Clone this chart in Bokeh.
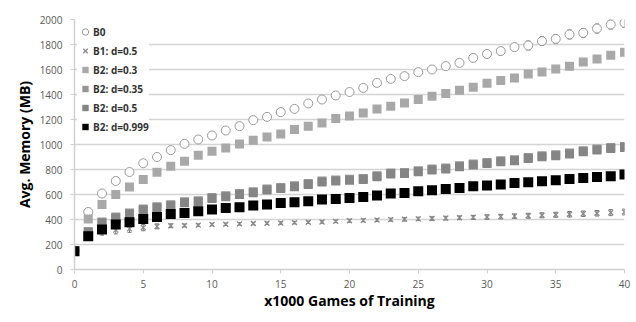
from bokeh.plotting import figure
from bokeh.models import ColumnDataSource, Whisker, TeeHead, Legend, LegendItem, Range1d, FixedTicker
from bokeh.embed import file_html
from bokeh.resources import INLINE

games = list(range(0, 41))
b0 = [150, 460, 608, 708, 780, 850, 900, 955, 1005, 1040, 1072, 1112, 1147, 1195, 1221, 1259, 1285, 1328, 1360, 1392,
      1420, 1453, 1493, 1525, 1547, 1579, 1600, 1627, 1653, 1693, 1724, 1747, 1779, 1792, 1827, 1845, 1880, 1893, 1928, 1960, 1973]
b0_err = [0, 30, 25, 25, 25, 25, 20, 20, 20, 20, 20, 20, 15, 20, 20, 20, 20, 20, 20, 20,
          15, 20, 20, 20, 25, 20, 25, 25, 25, 30, 30, 30, 30, 35, 35, 35, 35, 35, 35, 35, 35]
b1 = [150, 290, 305, 315, 325, 335, 345, 350, 352, 355, 360, 362, 365, 368, 370, 372, 375, 378, 380, 385,
      390, 393, 396, 399, 402, 405, 408, 411, 414, 417, 420, 423, 427, 430, 434, 438, 442, 446, 450, 455, 460]
b1_err = [0, 30, 30, 30, 28, 25, 20, 15, 12, 10, 10, 10, 10, 10, 10, 10, 10, 10, 10, 10,
          12, 12, 12, 12, 14, 14, 14, 15, 15, 16, 18, 18, 18, 20, 20, 20, 22, 22, 22, 24, 24]
b2_d030 = [150, 405, 520, 600, 661, 720, 779, 827, 867, 915, 947, 973, 1005, 1035, 1061, 1085, 1120, 1147, 1173, 1208,
           1228, 1253, 1285, 1307, 1333, 1360, 1387, 1408, 1435, 1459, 1490, 1512, 1533, 1565, 1581, 1605, 1627, 1661, 1685, 1715, 1739]
b2_d035 = [150, 305, 380, 420, 452, 484, 503, 519, 543, 551, 577, 591, 609, 623, 644, 657, 671, 689, 708, 716,
           722, 729, 751, 772, 777, 791, 804, 812, 831, 844, 857, 871, 879, 897, 911, 919, 932, 951, 964, 977, 985]
b2_d050 = [150, 295, 372, 412, 444, 476, 495, 511, 535, 543, 569, 583, 601, 615, 636, 649, 663, 681, 700, 708,
           714, 721, 743, 764, 769, 783, 796, 804, 823, 836, 849, 863, 871, 889, 903, 911, 924, 943, 956, 969, 977]
b2_d0999 = [147, 267, 320, 360, 379, 405, 421, 445, 453, 467, 480, 493, 499, 512, 520, 533, 539, 547, 560, 565,
            572, 581, 592, 608, 613, 627, 635, 645, 653, 667, 673, 680, 693, 699, 707, 715, 725, 733, 741, 747, 760]

labels = ["B0", "B1: d=0.5", "B2: d=0.3", "B2: d=0.35", "B2: d=0.5", "B2: d=0.999"]
x_ticks = [0, 5, 10, 15, 20, 25, 30, 35, 40]
y_ticks = [0, 200, 400, 600, 800, 1000, 1200, 1400, 1600, 1800, 2000]

FONT = "Open Sans"

p = figure(width=632, height=318, output_backend="svg", toolbar_location=None,
           x_range=Range1d(0, 40), y_range=Range1d(0, 2000),
           min_border_left=74, min_border_right=8, min_border_top=19, min_border_bottom=49)
p.outline_line_color = None
p.xgrid.grid_line_color = None
p.ygrid.grid_line_color = "#d4d4d4"
p.ygrid.grid_line_width = 1.5
p.xaxis.ticker = FixedTicker(ticks=x_ticks)
p.yaxis.ticker = FixedTicker(ticks=y_ticks)
for ax in (p.xaxis[0], p.yaxis[0]):
    ax.axis_line_color = "#d0d0d0"
    ax.axis_line_width = 1.5
    ax.major_tick_line_color = "#d0d0d0"
    ax.major_tick_out = 4
    ax.major_tick_in = 0
    ax.minor_tick_line_color = None
    ax.major_label_text_font = FONT
    ax.major_label_text_font_size = "10px"
    ax.major_label_text_color = "#595959"
    ax.axis_label_text_font = FONT
    ax.axis_label_text_font_size = "14px"
    ax.axis_label_text_font_style = "bold"
    ax.axis_label_text_color = "#000000"
p.xaxis.axis_label = "x1000 Games of Training"
p.yaxis.axis_label = "Avg. Memory (MB)"
p.xaxis.major_label_standoff = 6
p.yaxis.major_label_standoff = 8
p.xaxis.axis_label_standoff = 0
p.yaxis.axis_label_standoff = 3

src = ColumnDataSource(dict(x=games, b0=b0, b1=b1, d030=b2_d030, d035=b2_d035, d050=b2_d050, d0999=b2_d0999,
                            b0_lo=[v - e for v, e in zip(b0, b0_err)], b0_hi=[v + e for v, e in zip(b0, b0_err)],
                            b1_lo=[v - e for v, e in zip(b1, b1_err)], b1_hi=[v + e for v, e in zip(b1, b1_err)]))

r0 = p.scatter("x", "b0", source=src, marker="circle", size=9, fill_color="white", line_color="#9a9a9a", line_width=1)
r1 = p.scatter("x", "b1", source=src, marker="x", size=7, line_color="#8a8a8a", line_width=1.3)
r2 = p.scatter("x", "d030", source=src, marker="square", size=9, fill_color="#a8a8a8", line_color=None)
r3 = p.scatter("x", "d035", source=src, marker="square", size=9, fill_color="#959595", line_color=None)
r4 = p.scatter("x", "d050", source=src, marker="square", size=9, fill_color="#858585", line_color=None)
r5 = p.scatter("x", "d0999", source=src, marker="square", size=10, fill_color="#000000", line_color=None)

p.add_layout(Whisker(source=src, base="x", upper="b0_hi", lower="b0_lo", line_color="#555555", line_width=1,
                     upper_head=TeeHead(size=4, line_color="#555555"), lower_head=TeeHead(size=4, line_color="#555555")))
p.add_layout(Whisker(source=src, base="x", upper="b1_hi", lower="b1_lo", line_color="#777777", line_width=1,
                     upper_head=TeeHead(size=4, line_color="#777777"), lower_head=TeeHead(size=4, line_color="#777777")))

legend = Legend(items=[LegendItem(label=l, renderers=[r]) for l, r in zip(labels, [r0, r1, r2, r3, r4, r5])],
                location="top_left")
legend.margin = 3
legend.padding = 0
legend.spacing = 0
legend.glyph_width = 16
legend.glyph_height = 19
legend.label_height = 19
legend.label_standoff = 0
legend.label_text_font = FONT
legend.label_text_font_size = "10px"
legend.label_text_font_style = "bold"
legend.label_text_color = "#333333"
legend.background_fill_color = "white"
legend.background_fill_alpha = 1
legend.border_line_color = None
p.add_layout(legend)

open("out.html", "w").write(file_html(p, INLINE))
